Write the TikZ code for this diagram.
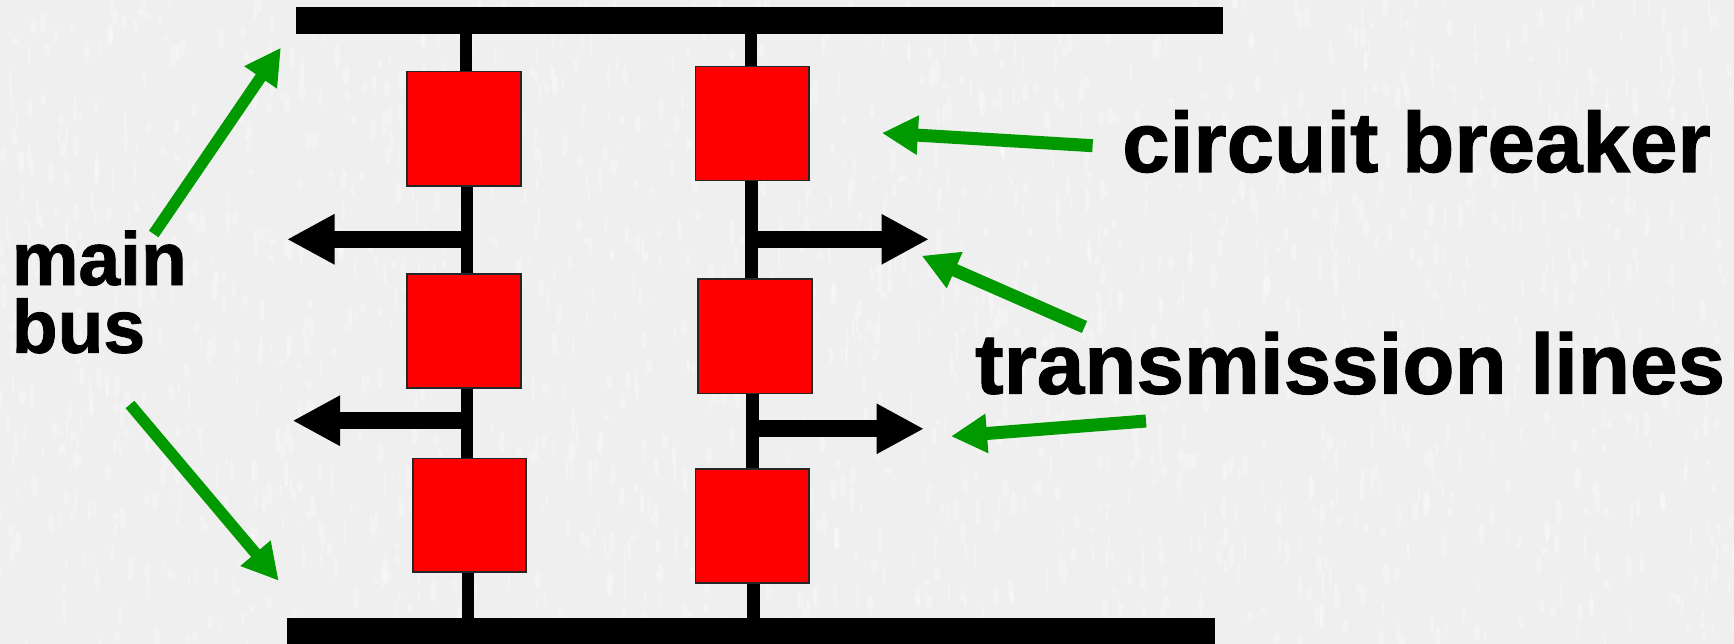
\documentclass[tikz,border=0pt]{standalone}
\usepackage{fontspec}
\setmainfont{Liberation Sans}[BoldFeatures={FakeBold=1.2}]
\usetikzlibrary{arrows.meta}
\definecolor{pagebg}{HTML}{EFEFEF}
\definecolor{arrowgreen}{HTML}{009900}
\definecolor{breakerred}{HTML}{FF0000}
\tikzset{
  busbar/.style={fill=black,draw=none,inner sep=0pt,anchor=north west},
  breaker/.style={fill=breakerred,draw=black!85,line width=1.6pt,inner sep=0pt,anchor=north west},
  stem/.style={draw=black,line width=12.2pt},
  feeder/.style={draw=black,line width=16.8pt,-{Triangle[length=47.5pt,width=47pt]}},
  pointer/.style={draw=arrowgreen,line width=13pt,-{Triangle[length=36pt,width=37pt]}},
  thinpointer/.style={pointer,line width=11.5pt},
  biglabel/.style={inner sep=0pt,font=\fontsize{85.4}{67.7}\selectfont\bfseries},
  sidelabel/.style={inner sep=0pt,font=\fontsize{75}{67.7}\selectfont\bfseries}
}
\begin{document}
\begin{tikzpicture}[x=1pt,y=-1pt]
\useasboundingbox (0,0) rectangle (1734,644);
\fill[pagebg] (0,0) rectangle (1734,644);
\pgfmathsetseed{42}
\foreach \k in {1,...,1800}{
  \pgfmathsetmacro{\px}{rnd*1734}
  \pgfmathsetmacro{\py}{rnd*644}
  \pgfmathsetmacro{\pw}{1+rnd*2.5}
  \pgfmathsetmacro{\ph}{3+rnd*10}
  \fill[white,opacity=.28] (\px,\py) ellipse [x radius=\pw,y radius=\ph];
}
% buses
\node[busbar,minimum width=927.3pt,minimum height=26.7pt] (topbus) at (295.3,7.3) {};
\node[busbar,minimum width=928.4pt,minimum height=26pt] (botbus) at (286.4,618) {};
% breakers
\node[breaker,minimum height=114.4pt,minimum width=114pt] (L1) at (406.4,70.7) {};
\node[breaker,minimum height=114.1pt,minimum width=114pt] (L2) at (406.4,273.3) {};
\node[breaker,minimum height=113.7pt,minimum width=113.4pt] (L3) at (412,457.7) {};
\node[breaker,minimum height=114pt,minimum width=113.9pt] (R1) at (694.5,65.7) {};
\node[breaker,minimum height=114.4pt,minimum width=114.2pt] (R2) at (697,278.3) {};
\node[breaker,minimum height=114.4pt,minimum width=113.9pt] (R3) at (694.5,468) {};
% stem guide points
\coordinate (xL0) at (465.8,0);
\coordinate (xL1) at (467,0);
\coordinate (xL2) at (467,0);
\coordinate (xL3) at (468,0);
\coordinate (xR0) at (750.6,0);
\coordinate (xR1) at (751.5,0);
\coordinate (xR2) at (752.5,0);
\coordinate (xR3) at (753.4,0);
\draw[stem] (topbus.south -| xL0) -- (L1.north -| xL0);
\draw[stem] (L1.south -| xL1) -- (L2.north -| xL1);
\draw[stem] (L2.south -| xL2) -- (L3.north -| xL2);
\draw[stem] (L3.south -| xL3) -- (botbus.north -| xL3);
\draw[stem] (topbus.south -| xR0) -- (R1.north -| xR0);
\draw[stem] (R1.south -| xR1) -- (R2.north -| xR1);
\draw[stem] (R2.south -| xR2) -- (R3.north -| xR2);
\draw[stem] (R3.south -| xR3) -- (botbus.north -| xR3);
% feeders
\coordinate (fa0) at (461,239.3); \coordinate (fa1) at (287,239.3);
\coordinate (fb0) at (461,420.7); \coordinate (fb1) at (292.5,420.7);
\coordinate (fc0) at (757,239.3); \coordinate (fc1) at (929,239.3);
\coordinate (fd0) at (759.2,428.8); \coordinate (fd1) at (924,428.8);
\draw[feeder] (fa0) -- (fa1);
\draw[feeder] (fb0) -- (fb1);
\draw[feeder] (fc0) -- (fc1);
\draw[feeder] (fd0) -- (fd1);
% labels
\node[biglabel,anchor=base west] (cb) at (1122,172) {circuit breaker};
\node[biglabel,anchor=base west] (tl) at (975,393.7) {transmission lines};
\node[sidelabel,anchor=base west] (mainword) at (11.6,285) {main};
\node[sidelabel,anchor=base west] (busword) at (11.6,352.7) {bus};
% pointers
\coordinate (p1a) at (153.7,234); \coordinate (p1b) at (280.9,47.7);
\coordinate (p2a) at (130,404.5); \coordinate (p2b) at (278.7,580.7);
\coordinate (p3a) at (1092.6,145.7); \coordinate (p3b) at (881.9,133);
\coordinate (p4a) at (1084.5,327); \coordinate (p4b) at (921.7,255.7);
\coordinate (p5a) at (1146,421); \coordinate (p5b) at (951,436.3);
\draw[thinpointer] (p1a) -- (p1b);
\draw[thinpointer] (p2a) -- (p2b);
\draw[pointer] (p3a) -- (p3b);
\draw[pointer] (p4a) -- (p4b);
\draw[pointer] (p5a) -- (p5b);
\end{tikzpicture}
\end{document}
